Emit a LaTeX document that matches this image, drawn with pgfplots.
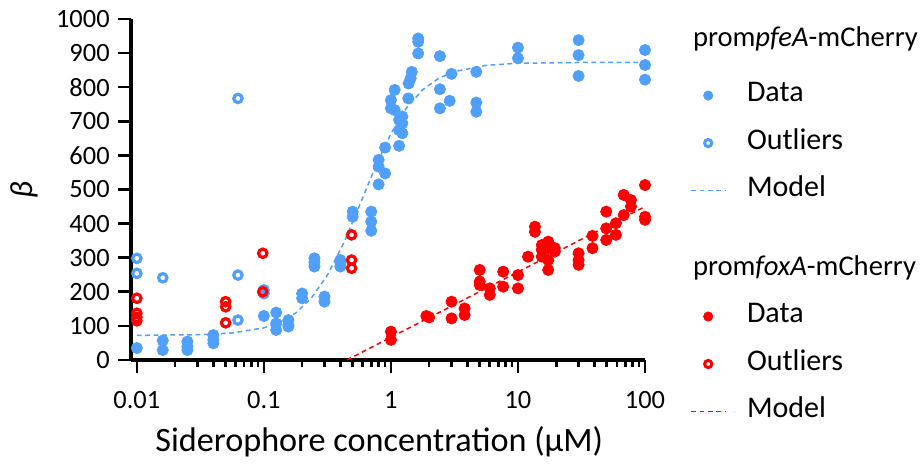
\documentclass[border=0pt]{standalone}
\usepackage{fontspec}
\setmainfont{Carlito}
\usepackage{pgfplots}
\pgfplotsset{compat=1.18}
\usepackage{pgfplotstable}

\definecolor{pfeblue}{RGB}{80,160,250}
\definecolor{foxred}{RGB}{255,0,0}

% promoter pfeA reporter
\pgfplotstableread{
x y
0.01 35
0.016 57
0.016 29
0.025 54
0.025 39
0.025 29
0.04 73
0.04 59
0.04 49
0.1 205
0.1 195
0.1 129
0.125 139
0.125 107
0.125 88
0.156 117
0.156 103
0.156 98
0.2 195
0.2 181
0.25 298
0.25 286
0.25 274
0.3 186
0.3 171
0.4 293
0.4 285
0.4 274
0.5 435
0.5 420
0.7 435
0.7 406
0.7 379
0.8 587
0.8 567
0.8 515
0.9 623
0.9 547
1.0 762
1.0 738
1.07 792
1.07 733
1.16 704
1.16 674
1.16 628
1.23 714
1.23 694
1.23 665
1.37 767
1.38 811
1.43 826
1.46 845
1.64 943
1.64 933
1.64 899
2.43 891
2.43 794
2.43 738
2.9 760
3 839
4.7 845
4.7 755
4.7 728
10 916
10 885
30 938
30 894
30 833
100 909
100 865
100 822
}\pfeData

\pgfplotstableread{
x y
0.01 298
0.01 254
0.016 241
0.0625 767
0.0625 249
0.0625 117
}\pfeOut

% four-parameter logistic fit, sampled
\pgfplotstableread{
x y
0.01 72.2
0.0316 74.3
0.0562 79.1
0.1 94.1
0.1334 110.4
0.1778 137.8
0.2371 182.0
0.3162 248.8
0.4217 340.2
0.5623 450.4
0.7499 564.0
1.0 664.0
1.3335 740.3
1.7783 792.5
2.3714 825.7
3.1623 845.7
5.6234 864.2
10 870.2
31.623 872.6
100 873.0
}\pfeModel

% promoter foxA reporter
\pgfplotstableread{
x y
1 83
1 59
1.9 129
2 125
3 171
3 122
3.8 151
3.8 132
5 264
5 230
5 220
6 191
6 210
7.65 259
7.65 215
10 249
10 210
12 303
13.6 391
13.6 376
15.4 337
15.4 323
15.4 303
17.3 347
17.3 328
17.3 293
17.3 264
19.5 328
19.5 318
30 313
30 293
30 279
38.6 364
38.6 328
49.5 435
49.5 386
49.5 352
59 401
59 367
68 484
68 425
77.5 469
77.5 450
100 513
100 420
100 411
}\foxData

\pgfplotstableread{
x y
0.01 181
0.01 137
0.01 125
0.01 115
0.05 171
0.05 156
0.05 109
0.098 313
0.098 200
0.49 367
0.49 293
0.49 269
}\foxOut

\pgfplotstableread{
x y
0.45 0
100 450
}\foxModel

\begin{document}
\fontsize{12}{14}\selectfont
\begin{tikzpicture}
\begin{axis}[
  scale only axis, width=257pt, height=170.5pt,
  xmode=log, xmin=0.009, xmax=100, ymin=0, ymax=1000,
  clip=false,
  legend cell align=left,
  legend style={draw=none, fill=none, inner sep=0pt,
    font=\fontsize{15}{17}\selectfont,
    row sep=9.75pt,
    nodes={inner sep=1pt, text height=9pt, text depth=3pt},
    /tikz/every odd column/.append style={column sep=9.5pt},
    at={(axis description cs:1.0875,0.957)}, anchor=north west},
  axis lines=left, axis line style={-, line width=1.7pt},
  tick align=outside,
  major tick length=6.5pt, minor tick length=3.5pt,
  tick style={line width=1.3pt, black},
  xtick={0.01,0.1,1,10,100}, xticklabels={0.01,0.1,1,10,100},
  minor xtick={0.02,0.03,0.04,0.05,0.06,0.07,0.08,0.09,
               0.2,0.3,0.4,0.5,0.6,0.7,0.8,0.9,
               2,3,4,5,6,7,8,9,20,30,40,50,60,70,80,90},
  ytick={0,100,...,1000},
  /pgf/number format/assume math mode=true,
  /pgf/number format/1000 sep={},
  ticklabel style={font=\fontsize{13.2}{15}\selectfont},
  xticklabel style={yshift=-5pt},
  xlabel={Siderophore concentration (µM)},
  ylabel={\itshape β},
  every axis x label/.style={at={(axis description cs:0.483,-0.24)}, anchor=center,
     font=\fontsize{17.1}{19}\selectfont},
  every axis y label/.style={at={(axis description cs:-0.207,0.497)}, anchor=center,
     rotate=90, font=\fontsize{16}{18}\selectfont},
]
\path (rel axis cs:-0.2549,-0.2991) rectangle (rel axis cs:1.535,1.0557);
\addplot[color=pfeblue, line width=0.75pt, dash pattern=on 2.4pt off 1.8pt, forget plot] table {\pfeModel};
\addplot[color=pfeblue, only marks, mark=*, mark size=2.8pt, forget plot] table {\pfeData};
\addplot[color=pfeblue, only marks, mark=o, mark size=2.1pt,
  mark options={line width=1.6pt}, forget plot] table {\pfeOut};

\addlegendimage{empty legend}
\addlegendentry{\makebox[0pt][l]{\hspace*{-27pt}\raisebox{4pt}{\fontsize{14.3}{17}\selectfont prom\textit{pfeA}-mCherry}}}
\addlegendimage{color=pfeblue, only marks, mark=*, mark size=2.3pt}
\addlegendentry{Data}
\addlegendimage{color=pfeblue, only marks, mark=o, mark size=1.8pt, mark options={line width=1.5pt}}
\addlegendentry{Outliers}
\addlegendimage{color=pfeblue, draw=pfeblue, line width=0.75pt, dash pattern=on 2.4pt off 1.8pt}
\addlegendentry{Model}
\end{axis}

\begin{axis}[
  scale only axis, width=257pt, height=170.5pt,
  xmode=log, xmin=0.009, xmax=100, ymin=0, ymax=1000,
  clip=false, hide axis,
  legend cell align=left,
  legend style={draw=none, fill=none, inner sep=0pt,
    font=\fontsize{15}{17}\selectfont,
    row sep=9.75pt,
    nodes={inner sep=1pt, text height=9pt, text depth=3pt},
    /tikz/every odd column/.append style={column sep=9.5pt},
    at={(axis description cs:1.0875,0.309)}, anchor=north west},
]
\addplot[color=foxred, line width=0.75pt, dash pattern=on 2.4pt off 1.8pt, forget plot] table {\foxModel};
\addplot[color=foxred, only marks, mark=*, mark size=2.8pt, forget plot] table {\foxData};
\addplot[color=foxred, only marks, mark=o, mark size=2.1pt,
  mark options={line width=1.6pt}, forget plot] table {\foxOut};

\addlegendimage{empty legend}
\addlegendentry{\makebox[0pt][l]{\hspace*{-27pt}\raisebox{0pt}{\fontsize{14.3}{17}\selectfont prom\textit{foxA}-mCherry}}}
\addlegendimage{color=foxred, only marks, mark=*, mark size=2.3pt}
\addlegendentry{Data}
\addlegendimage{color=foxred, only marks, mark=o, mark size=1.8pt, mark options={line width=1.5pt}}
\addlegendentry{Outliers}
\addlegendimage{color=foxred, draw=foxred, line width=0.75pt, dash pattern=on 2.4pt off 1.8pt}
\addlegendentry{Model}
\end{axis}
\end{tikzpicture}
\end{document}
